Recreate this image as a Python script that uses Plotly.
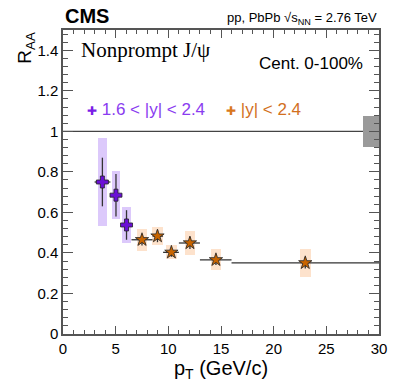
import plotly.graph_objects as go

# 1.6 < |y| < 2.4 (forward, low pT)
fwd_pt = [3.74, 5.03, 6.03]
fwd_lo = [3.0, 4.5, 5.5]
fwd_hi = [4.5, 5.5, 6.5]
fwd_raa = [0.75, 0.685, 0.538]
fwd_stat = [0.12, 0.105, 0.073]
fwd_syst = [0.215, 0.12, 0.088]

# |y| < 2.4
mid_pt = [7.5, 8.97, 10.29, 12.05, 14.52, 23.0]
mid_lo = [6.5, 8.5, 9.5, 11.0, 13.0, 16.0]
mid_hi = [8.5, 9.5, 11.0, 13.0, 16.0, 30.0]
mid_raa = [0.465, 0.483, 0.403, 0.449, 0.366, 0.351]
mid_stat = [0.028, 0.03, 0.022, 0.03, 0.025, 0.028]
mid_syst = [0.053, 0.043, 0.034, 0.06, 0.052, 0.068]

glob_unc = 0.075
unity = 1.0

purple = "#6a0fd6"
orange = "#c86400"
font = "Liberation Sans, Arial, sans-serif"

fig = go.Figure()

# systematic boxes
fig.add_trace(go.Bar(x=fwd_pt, y=[2 * s for s in fwd_syst],
                     base=[r - s for r, s in zip(fwd_raa, fwd_syst)],
                     width=0.8, marker=dict(color="#dcc9fb", line=dict(width=0)),
                     showlegend=False, hoverinfo="skip"))
fig.add_trace(go.Bar(x=mid_pt, y=[2 * s for s in mid_syst],
                     base=[r - s for r, s in zip(mid_raa, mid_syst)],
                     width=1.0, marker=dict(color="#fde2cc", line=dict(width=0)),
                     showlegend=False, hoverinfo="skip"))
# global uncertainty
fig.add_trace(go.Bar(x=[29.25], y=[2 * glob_unc], base=[unity - glob_unc],
                     width=1.5, marker=dict(color="#9a9a9a", line=dict(width=0)),
                     showlegend=False, hoverinfo="skip"))

fig.add_hline(y=unity, line=dict(color="#444444", width=1.2), layer="below")

fig.add_trace(go.Scatter(
    x=fwd_pt, y=fwd_raa, mode="markers",
    marker=dict(symbol="cross", size=10, color=purple, line=dict(color="#222", width=0.8)),
    error_x=dict(type="data", array=[h - p for h, p in zip(fwd_hi, fwd_pt)],
                 arrayminus=[p - l for p, l in zip(fwd_pt, fwd_lo)],
                 width=0, color="#333", thickness=1.3),
    error_y=dict(type="data", array=fwd_stat, width=0, color="#333", thickness=1.3),
    showlegend=False, hoverinfo="skip"))
fig.add_trace(go.Scatter(
    x=mid_pt, y=mid_raa, mode="markers",
    marker=dict(symbol="star", size=10, color=orange, line=dict(color="#222", width=0.8)),
    error_x=dict(type="data", array=[h - p for h, p in zip(mid_hi, mid_pt)],
                 arrayminus=[p - l for p, l in zip(mid_pt, mid_lo)],
                 width=0, color="#333", thickness=1.3),
    error_y=dict(type="data", array=mid_stat, width=0, color="#333", thickness=1.3),
    showlegend=False, hoverinfo="skip"))

axis_common = dict(showline=True, linecolor="#555555", linewidth=1.5, mirror="allticks",
                   ticks="inside", tickcolor="#555555", showgrid=False, zeroline=False,
                   tickfont=dict(family=font, size=15, color="black"))

fig.update_xaxes(range=[0, 30], tick0=0, dtick=5, ticklen=8,
                 minor=dict(ticks="inside", dtick=1, ticklen=4, tickcolor="#555555"),
                 title=dict(text="p<sub>T</sub> (GeV/c)", font=dict(family=font, size=20), standoff=0),
                 **axis_common)
fig.update_yaxes(range=[0, 1.5], tick0=0, dtick=0.2, ticklen=10,
                 minor=dict(ticks="inside", dtick=0.04, ticklen=5, tickcolor="#555555"),
                 **axis_common)

fig.update_layout(
    width=399, height=383, barmode="overlay", bargap=0,
    margin=dict(l=63, r=16, t=30, b=47),
    plot_bgcolor="white", paper_bgcolor="white",
    font=dict(family=font, color="black"),
    showlegend=False,
    annotations=[
        dict(text="<b>CMS</b>", x=0.0, y=1.0, xref="paper", yref="paper",
             xanchor="left", yanchor="bottom", yshift=1, showarrow=False,
             font=dict(family=font, size=20)),
        dict(text="pp, PbPb √s<sub>NN</sub> = 2.76 TeV", x=1.0, y=1.0, xref="paper", yref="paper",
             xanchor="right", yanchor="bottom", yshift=1, showarrow=False,
             font=dict(family=font, size=13)),
        dict(text="R<sub>AA</sub>", x=-0.118, y=1.0, xref="paper", yref="paper",
             xanchor="center", yanchor="top", textangle=-90, showarrow=False,
             font=dict(family=font, size=19)),
        dict(text="Nonprompt J/ψ", x=0.05, y=0.935, xref="paper", yref="paper",
             xanchor="left", yanchor="middle", showarrow=False,
             font=dict(family="Liberation Serif, Times New Roman, serif", size=21)),
        dict(text="Cent. 0-100%", x=0.956, y=0.89, xref="paper", yref="paper",
             xanchor="right", yanchor="middle", showarrow=False,
             font=dict(family=font, size=17)),
        dict(text="<span style='color:#7a1ee6;font-size:12px'>✚</span> <span style='color:#8a3cf0'>1.6 &lt; |y| &lt; 2.4</span>",
             x=0.07, y=0.737, xref="paper", yref="paper",
             xanchor="left", yanchor="middle", showarrow=False,
             font=dict(family=font, size=17)),
        dict(text="<span style='color:#d9781e;font-size:12px'>✚</span> <span style='color:#d2701e'>|y| &lt; 2.4</span>",
             x=0.51, y=0.737, xref="paper", yref="paper",
             xanchor="left", yanchor="middle", showarrow=False,
             font=dict(family=font, size=17)),
    ],
)

fig.write_html("out.html", config={"displayModeBar": False},
               post_script="document.body.style.margin='0';")
